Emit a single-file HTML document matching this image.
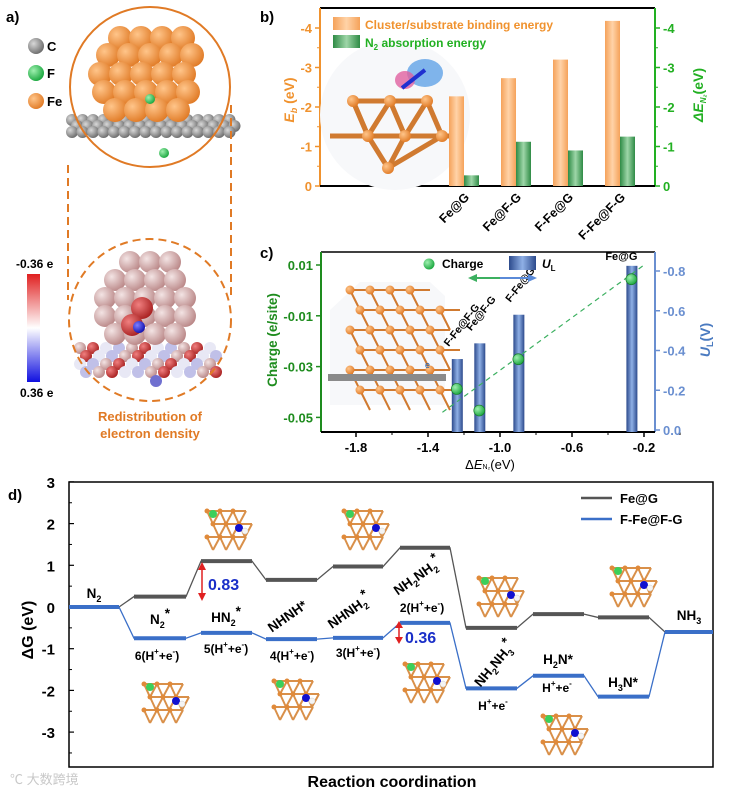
<!DOCTYPE html>
<html><head><meta charset="utf-8">
<style>
html,body{margin:0;padding:0;background:#fff;}
svg{display:block;font-family:"Liberation Sans",Arial,sans-serif;}
</style></head>
<body>
<svg id="fig" width="743" height="794" viewBox="0 0 743 794" xmlns="http://www.w3.org/2000/svg">
<defs>
<radialGradient id="gOr" cx="0.35" cy="0.35" r="0.7"><stop offset="0" stop-color="#ffc58a"/><stop offset="1" stop-color="#e07a25"/></radialGradient>
<radialGradient id="gGr" cx="0.35" cy="0.35" r="0.7"><stop offset="0" stop-color="#d8d8d8"/><stop offset="1" stop-color="#6a6a6a"/></radialGradient>
<radialGradient id="gGn" cx="0.35" cy="0.35" r="0.7"><stop offset="0" stop-color="#9ff0b0"/><stop offset="1" stop-color="#17a53c"/></radialGradient>
<radialGradient id="gPk" cx="0.35" cy="0.35" r="0.7"><stop offset="0" stop-color="#f3e4e4"/><stop offset="1" stop-color="#b98686"/></radialGradient>
<radialGradient id="gRd" cx="0.35" cy="0.35" r="0.7"><stop offset="0" stop-color="#f08080"/><stop offset="1" stop-color="#a82020"/></radialGradient>
<radialGradient id="gBl" cx="0.35" cy="0.35" r="0.7"><stop offset="0" stop-color="#8080ff"/><stop offset="1" stop-color="#1010b0"/></radialGradient>
<linearGradient id="cbar" x1="0" y1="0" x2="0" y2="1"><stop offset="0" stop-color="#e02020"/><stop offset="0.5" stop-color="#ffffff"/><stop offset="1" stop-color="#1010e0"/></linearGradient>
<linearGradient id="barOr" x1="0" x2="1"><stop offset="0" stop-color="#f5a25a"/><stop offset="0.5" stop-color="#ffd3a8"/><stop offset="1" stop-color="#f5a25a"/></linearGradient>
<linearGradient id="barGn" x1="0" x2="1"><stop offset="0" stop-color="#2e8b45"/><stop offset="0.5" stop-color="#9ed6a8"/><stop offset="1" stop-color="#2e8b45"/></linearGradient>
<linearGradient id="barBl" x1="0" x2="1"><stop offset="0" stop-color="#2c4a8c"/><stop offset="0.5" stop-color="#8fb0e6"/><stop offset="1" stop-color="#2c4a8c"/></linearGradient>
</defs>

<g>
<text x="6" y="22" font-size="15" font-weight="bold">a)</text>
<circle cx="36" cy="46" r="8" fill="url(#gGr)"/>
<text x="47" y="51" font-size="13" font-weight="bold">C</text>
<circle cx="36" cy="73" r="8" fill="url(#gGn)"/>
<text x="47" y="78" font-size="13" font-weight="bold">F</text>
<circle cx="36" cy="101" r="8" fill="url(#gOr)"/>
<text x="47" y="106" font-size="13" font-weight="bold">Fe</text>
<g id="topMol"></g>
<circle cx="150" cy="87" r="80" fill="none" stroke="#e07a25" stroke-width="2"/>
<line x1="68" y1="165" x2="68" y2="300" stroke="#e07a25" stroke-width="2" stroke-dasharray="8,5"/>
<line x1="231" y1="105" x2="231" y2="300" stroke="#e07a25" stroke-width="2" stroke-dasharray="8,5"/>
<g id="botMol"></g>
<circle cx="150" cy="320" r="81" fill="none" stroke="#e07a25" stroke-width="2" stroke-dasharray="8,5"/>
<rect x="27" y="274" width="13" height="108" fill="url(#cbar)"/>
<text x="16" y="268" font-size="12" font-weight="bold">-0.36 e</text>
<text x="20" y="397" font-size="12" font-weight="bold">0.36 e</text>
<text x="150" y="421" font-size="13" font-weight="bold" fill="#e07a25" text-anchor="middle">Redistribution of</text>
<text x="150" y="438" font-size="13" font-weight="bold" fill="#e07a25" text-anchor="middle">electron density</text>
</g>

<g id="panelB">
<text x="260" y="22" font-size="15" font-weight="bold">b)</text>
</g>
<g id="panelC">
<text x="260" y="258" font-size="15" font-weight="bold">c)</text>
</g>
<g id="panelD">
<text x="8" y="500" font-size="15" font-weight="bold">d)</text>
</g>
</svg>
<script>
// ---------- Panel b data ----------
var bCats = ["Fe@G","Fe@F-G","F-Fe@G","F-Fe@F-G"];
var bBinding = [2.27, 2.73, 3.2, 4.18];
var bAbsorb = [0.27, 1.12, 0.9, 1.25];
var bTicks = [0, -1, -2, -3, -4];
// ---------- Panel c data ----------
var cLabels = ["F-Fe@F-G","Fe@F-G","F-Fe@G","Fe@G"];
var cDeltaE = [-1.24, -1.115, -0.898, -0.27];
var cUL = [0.357, 0.436, 0.58, 0.826];
var cCharge = [-0.0388, -0.0473, -0.0271, 0.0044];
var cXTicks = [-1.8, -1.4, -1.0, -0.6, -0.2];
var cLeftTicks = [0.01, -0.01, -0.03, -0.05];
var cRightTicks = [0, -0.2, -0.4, -0.6, -0.8];
// ---------- Panel d data ----------
var dFeG = [0, 0.25, 1.1, 0.65, 0.97, 1.42, -0.5, -0.17, -0.25, -0.6];
var dFFeFG = [0, -0.75, -0.62, -0.77, -0.74, -0.38, -1.95, -1.65, -2.15, -0.6];
var dYTicks = [3, 2, 1, 0, -1, -2, -3];

var NS = "http://www.w3.org/2000/svg";
function mk(parent, tag, attrs, txt){
  var e = document.createElementNS(NS, tag);
  for (var k in attrs) e.setAttribute(k, attrs[k]);
  if (txt !== undefined) e.textContent = txt;
  parent.appendChild(e);
  return e;
}

(function(){
  var top = document.getElementById('topMol');
  for (var r=0;r<3;r++) for (var i=0;i<16;i++){
    var s = mk(top,'circle',{cx:72+i*10.5+(r%2)*5,cy:120+r*6,r:6,fill:'url(#gGr)'});
    
    
  }
  var rows = [[120,38,4],[108,55,5],[100,74,5],[104,92,5],[115,110,4]];
  rows.forEach(function(rw){
    for (var i=0;i<rw[2];i++){
      var s = mk(top,'circle',{cx:rw[0]+i*21,cy:rw[1],r:12,fill:'url(#gOr)'});
      
      
    }
  });
  var f1 = mk(top,'circle',{cx:150,cy:99,r:5,fill:'url(#gGn)'});
  
  
  var f2 = mk(top,'circle',{cx:164,cy:153,r:5,fill:'url(#gGn)'});
  
  

  var bot = document.getElementById('botMol');
  var cols = ['url(#gPk)','url(#gRd)','#e8e8f5','#c0c0e8'];
  for (var r=0;r<4;r++) for (var i=0;i<11;i++){
    var s = mk(bot,'circle',{cx:80+i*13+(r%2)*6,cy:348+r*8,r:6,fill:cols[(i+r)%4]});
    
    
  }
  var brows = [[130,262,3],[115,280,4],[105,298,5],[105,316,5],[115,334,4]];
  brows.forEach(function(rw){
    for (var i=0;i<rw[2];i++){
      var s = mk(bot,'circle',{cx:rw[0]+i*20,cy:rw[1],r:11,fill:'url(#gPk)'});
      
      
    }
  });
  [[142,308],[132,325]].forEach(function(p){
    var s = mk(bot,'circle',{cx:p[0],cy:p[1],r:11,fill:'url(#gRd)'});
    
    
  });
  var bl = mk(bot,'circle',{cx:139,cy:327,r:6,fill:'url(#gBl)'});
  
  
  var bl2 = mk(bot,'circle',{cx:156,cy:381,r:6,fill:'#7070d0'});
  
  
})();

(function(){
  var g = document.getElementById('panelB');
  var L=320,R=655,T=8,B=186, per=39.5;
  function y(v){ return B - v*per; }
  var x0 = 464, step = 52;
  function xc(i){ return x0 + i*step; }
  mk(g,'line',{x1:L,y1:T,x2:R,y2:T,stroke:'#000','stroke-width':2});
  var la = mk(g,'line',{x1:L,y1:T,x2:L,y2:B,stroke:'#f0922e','stroke-width':2});
  
  
  var ra = mk(g,'line',{x1:R,y1:T,x2:R,y2:B,stroke:'#22b022','stroke-width':2});
  
  
  var xa = mk(g,'line',{x1:L,y1:B,x2:R,y2:B,stroke:'#000','stroke-width':2});
  
  
  bTicks.forEach(function(t){
    var v=-t;
    mk(g,'line',{x1:L-5,y1:y(v),x2:L,y2:y(v),stroke:'#f0922e','stroke-width':1.5});
    var tl = mk(g,'text',{x:L-8,y:y(v)+5,'font-size':13,'font-weight':'bold',fill:'#f0922e','text-anchor':'end'},String(t));
    
    
    mk(g,'line',{x1:R,y1:y(v),x2:R+5,y2:y(v),stroke:'#22b022','stroke-width':1.5});
    var tr = mk(g,'text',{x:R+8,y:y(v)+5,'font-size':13,'font-weight':'bold',fill:'#22b022'},String(t));
    
    
    if (v<4){
      mk(g,'line',{x1:L-3,y1:y(v+0.5),x2:L,y2:y(v+0.5),stroke:'#f0922e'});
      mk(g,'line',{x1:R,y1:y(v+0.5),x2:R+3,y2:y(v+0.5),stroke:'#22b022'});
    }
  });
  var ins = mk(g,'g',{});
  
  
  mk(ins,'circle',{cx:395,cy:115,r:75,fill:'#f7f8fa'});
  var pts=[[353,101],[390,101],[427,101],[368,136],[405,136],[442,136],[388,168]];
  [[0,1],[1,2],[0,3],[1,3],[1,4],[2,4],[2,5],[3,4],[4,5],[3,6],[4,6],[5,6],[0,3]].forEach(function(p){
    mk(ins,'line',{x1:pts[p[0]][0],y1:pts[p[0]][1],x2:pts[p[1]][0],y2:pts[p[1]][1],stroke:'#d07a30','stroke-width':5});
  });
  mk(ins,'line',{x1:330,y1:136,x2:450,y2:136,stroke:'#d07a30','stroke-width':5});
  pts.forEach(function(p){ mk(ins,'circle',{cx:p[0],cy:p[1],r:6,fill:'url(#gOr)'}); });
  mk(ins,'ellipse',{cx:425,cy:73,rx:18,ry:14,fill:'#6aa8e8',opacity:0.85});
  mk(ins,'ellipse',{cx:405,cy:80,rx:10,ry:9,fill:'#e060a0',opacity:0.8});
  mk(ins,'line',{x1:402,y1:88,x2:425,y2:70,stroke:'#2030d0','stroke-width':4});
  var lg1 = mk(g,'rect',{x:333,y:17,width:27,height:13,fill:'url(#barOr)'});
  
  
  var lt1 = mk(g,'text',{x:365,y:29,'font-size':12,'font-weight':'bold',fill:'#f0922e'},'Cluster/substrate binding energy');
  
  
  var lg2 = mk(g,'rect',{x:333,y:35,width:27,height:13,fill:'url(#barGn)'});
  
  
  var lt2 = mk(g,'text',{x:365,y:47,'font-size':12,'font-weight':'bold',fill:'#22b022'});
  lt2.innerHTML = 'N<tspan font-size="8" dy="3">2</tspan><tspan dy="-3"> absorption energy</tspan>';
  
  
  bCats.forEach(function(c,i){
    var b1 = mk(g,'rect',{x:xc(i)-15,y:y(bBinding[i]),width:15,height:B-y(bBinding[i]),fill:'url(#barOr)'});
    
    
    var b2 = mk(g,'rect',{x:xc(i),y:y(bAbsorb[i]),width:15,height:B-y(bAbsorb[i]),fill:'url(#barGn)'});
    
    
    var tx = mk(g,'text',{x:xc(i)+6,y:B+12,'font-size':12.5,'font-weight':'bold','text-anchor':'end',transform:'rotate(-45 '+(xc(i)+6)+' '+(B+12)+')'},c);
    
    
  });
  var yl = mk(g,'text',{x:0,y:0,'font-size':14,'font-weight':'bold',fill:'#f0922e','text-anchor':'middle',transform:'translate(294 100) rotate(-90)'});
  yl.innerHTML='<tspan font-style="italic">E</tspan><tspan font-size="9" dy="3" font-style="italic">b</tspan><tspan dy="-3"> (eV)</tspan>';
  
  
  var yr = mk(g,'text',{x:0,y:0,'font-size':14,'font-weight':'bold',fill:'#22b022','text-anchor':'middle',transform:'translate(703 95) rotate(-90)'});
  yr.innerHTML='<tspan font-style="italic">ΔE</tspan><tspan font-size="8" dy="3" font-style="italic">N₂</tspan><tspan dy="-3">(eV)</tspan>';
  
  
})();

(function(){
  var g = document.getElementById('panelC');
  var L=321,R=655,T=252,B=432;
  function x(v){ return 356 + (v+1.8)*180; }
  function yL(v){ return 265 + (0.01 - v)/0.01*25.4; }
  function yR(v){ return 430 - v*198.75; }
  mk(g,'line',{x1:L,y1:T,x2:R,y2:T,stroke:'#000','stroke-width':1.5});
  var la = mk(g,'line',{x1:L,y1:T,x2:L,y2:B,stroke:'#1e8c1e','stroke-width':2});
  
  
  var ra = mk(g,'line',{x1:R,y1:T,x2:R,y2:B,stroke:'#6a8fd0','stroke-width':2});
  
  
  var xa = mk(g,'line',{x1:L,y1:B,x2:R,y2:B,stroke:'#000','stroke-width':2});
  
  
  var ins = mk(g,'g',{});
  
  
  mk(ins,'path',{d:'M345 296 L360 282 L430 282 L445 296 L445 405 L330 405 L330 310 Z',fill:'#f7f8fa'});
  for (var r=0;r<6;r++) for (var i=0;i<5-(r===0?1:0);i++){
    var cx=350+i*20+(r%2)*10, cy=290+r*20;
    mk(ins,'line',{x1:cx,y1:cy,x2:cx+20,y2:cy,stroke:'#d07a30','stroke-width':2});
    mk(ins,'line',{x1:cx,y1:cy,x2:cx+10,y2:cy+20,stroke:'#d07a30','stroke-width':2});
    mk(ins,'circle',{cx:cx,cy:cy,r:4.5,fill:'url(#gOr)'});
  }
  mk(ins,'rect',{x:328,y:374,width:118,height:7,fill:'#8a8a8a'});
  mk(ins,'text',{x:425,y:368,'font-size':9,fill:'#2060b0'},'e');
  cDeltaE.forEach(function(d,i){
    var b = mk(g,'rect',{x:x(d)-5,y:yR(cUL[i]),width:11,height:B-yR(cUL[i]),fill:'url(#barBl)'});
    
    
  });
  var tl = mk(g,'line',{x1:x(-1.32),y1:yL(-0.048),x2:x(-0.19),y2:yL(0.0105),stroke:'#3cb060','stroke-width':1.2,'stroke-dasharray':'5,4'});
  
  
  cDeltaE.forEach(function(d,i){
    var p = mk(g,'circle',{cx:x(d),cy:yL(cCharge[i]),r:5.5,fill:'url(#gGn)',stroke:'#1a7a2a','stroke-width':0.7});
    
    
  });
  cDeltaE.forEach(function(d,i){
    var t;
    if (i===3){
      t = mk(g,'text',{x:x(d)-10,y:yR(cUL[i])-6,'font-size':11,'font-weight':'bold','text-anchor':'middle'},cLabels[i]);
    } else {
      var lx = x(d)-8, ly = yR(cUL[i])-12;
      t = mk(g,'text',{x:lx,y:ly,'font-size':10.5,'font-weight':'bold',transform:'rotate(-52 '+lx+' '+ly+')'},cLabels[i]);
    }
    
    
  });
  cXTicks.forEach(function(t){
    mk(g,'line',{x1:x(t),y1:B,x2:x(t),y2:B+5,stroke:'#000','stroke-width':1.5});
    mk(g,'line',{x1:x(t+0.2),y1:B,x2:x(t+0.2),y2:B+3,stroke:'#000'});
    var tx = mk(g,'text',{x:x(t),y:B+20,'font-size':13,'font-weight':'bold','text-anchor':'middle'},t.toFixed(1));
    
    
  });
  cLeftTicks.forEach(function(t){
    mk(g,'line',{x1:L-5,y1:yL(t),x2:L,y2:yL(t),stroke:'#1e8c1e','stroke-width':1.5});
    var tx = mk(g,'text',{x:L-8,y:yL(t)+5,'font-size':13,'font-weight':'bold',fill:'#1e8c1e','text-anchor':'end'},String(t));
    
    
  });
  cRightTicks.forEach(function(t){
    mk(g,'line',{x1:R,y1:yR(-t),x2:R+5,y2:yR(-t),stroke:'#6a8fd0','stroke-width':1.5});
    var tx = mk(g,'text',{x:R+8,y:yR(-t)+5,'font-size':13,'font-weight':'bold',fill:'#6a8fd0'},t.toFixed(1));
    
    
  });
  var lgd = mk(g,'circle',{cx:429,cy:264,r:5.5,fill:'url(#gGn)'});
  
  
  var lgt = mk(g,'text',{x:442,y:268,'font-size':12,'font-weight':'bold'},'Charge');
  
  
  var lgb = mk(g,'rect',{x:509,y:256,width:27,height:14,fill:'url(#barBl)'});
  
  
  var lgu = mk(g,'text',{x:542,y:268,'font-size':12,'font-weight':'bold'});
  lgu.innerHTML='<tspan font-style="italic">U</tspan><tspan font-size="8" dy="3">L</tspan>';
  
  
  var ar = mk(g,'g',{});
  
  
  mk(ar,'line',{x1:475,y1:278,x2:500,y2:278,stroke:'#3cb060','stroke-width':2});
  mk(ar,'line',{x1:500,y1:278,x2:530,y2:278,stroke:'#5a8ad8','stroke-width':2});
  mk(ar,'path',{d:'M468 278 L477 274 L477 282 Z',fill:'#3cb060'});
  mk(ar,'path',{d:'M537 278 L528 274 L528 282 Z',fill:'#5a8ad8'});
  var yl = mk(g,'text',{x:0,y:0,'font-size':13.5,'font-weight':'bold',fill:'#1e8c1e','text-anchor':'middle',transform:'translate(277 340) rotate(-90)'},'Charge (e/site)');
  
  
  var yr = mk(g,'text',{x:0,y:0,'font-size':14,'font-weight':'bold',fill:'#4a7ac0','text-anchor':'middle',transform:'translate(710 340) rotate(-90)'});
  yr.innerHTML='<tspan font-style="italic">U</tspan><tspan font-size="9" dy="3">L</tspan><tspan dy="-3">(V)</tspan>';
  
  
  var xt = mk(g,'text',{x:490,y:469,'font-size':13,'text-anchor':'middle'});
  xt.innerHTML='Δ<tspan font-style="italic">E</tspan><tspan font-size="7">N₂</tspan>(eV)';
  
  
})();

(function(){
  var g = document.getElementById('panelD');
  var L=69,R=713,T=482,B=767;
  function y(v){ return 607 - v*41.7; }
  var xs = [[69,119],[134,186],[201,252],[266,317],[333,383],[400,450],[466,517],[533,584],[598,649],[665,713]];
  var fr = mk(g,'rect',{x:L,y:T,width:R-L,height:B-T,fill:'none',stroke:'#000','stroke-width':1.5});
  
  
  dYTicks.forEach(function(t){
    mk(g,'line',{x1:L,y1:y(t),x2:L+5,y2:y(t),stroke:'#000','stroke-width':1.2});
    mk(g,'line',{x1:L,y1:y(t-0.5),x2:L+3,y2:y(t-0.5),stroke:'#000'});
    var tx = mk(g,'text',{x:L-14,y:y(t)+6,'font-size':15,'font-weight':'bold','text-anchor':'end'},String(t));
    
    
  });
  function path(arr){
    var d='';
    arr.forEach(function(v,i){
      d += (i===0?'M':'L')+xs[i][0]+' '+y(v)+' L'+xs[i][1]+' '+y(v)+' ';
    });
    return d;
  }
  var thin1 = mk(g,'path',{d:path(dFeG),fill:'none',stroke:'#555','stroke-width':1.3});
  
  
  var thin2 = mk(g,'path',{d:path(dFFeFG),fill:'none',stroke:'#3a6fc8','stroke-width':1.3});
  
  
  dFeG.forEach(function(v,i){
    if (i===0) return;
    var s = mk(g,'line',{x1:xs[i][0],y1:y(v),x2:xs[i][1],y2:y(v),stroke:'#555','stroke-width':4});
    
    
  });
  dFFeFG.forEach(function(v,i){
    var s = mk(g,'line',{x1:xs[i][0],y1:y(v),x2:xs[i][1],y2:y(v),stroke:'#3a6fc8','stroke-width':4});
    
    
  });
  var l1 = mk(g,'line',{x1:581,y1:498,x2:612,y2:498,stroke:'#555','stroke-width':2.5});
  
  
  var t1 = mk(g,'text',{x:620,y:503,'font-size':13,'font-weight':'bold'},'Fe@G');
  
  
  var l2 = mk(g,'line',{x1:581,y1:519,x2:612,y2:519,stroke:'#3a6fc8','stroke-width':2.5});
  
  
  var t2 = mk(g,'text',{x:620,y:524,'font-size':13,'font-weight':'bold'},'F-Fe@F-G');
  
  
  var labs = [
    [94,598,'N<tspan font-size="9" dy="4">2</tspan>',0],
    [160,624,'N<tspan font-size="9" dy="4">2</tspan><tspan dy="-10">*</tspan>',0],
    [226,622,'HN<tspan font-size="9" dy="4">2</tspan><tspan dy="-10">*</tspan>',0],
    [290,620,'NHNH*',-35],
    [352,615,'NHNH<tspan font-size="9" dy="4">2</tspan><tspan dy="-10">*</tspan>',-35],
    [420,580,'NH<tspan font-size="9" dy="4">2</tspan><tspan dy="-4">NH</tspan><tspan font-size="9" dy="4">2</tspan><tspan dy="-10">*</tspan>',-35],
    [498,667,'NH<tspan font-size="9" dy="4">2</tspan><tspan dy="-4">NH</tspan><tspan font-size="9" dy="4">3</tspan><tspan dy="-10">*</tspan>',-50],
    [558,664,'H<tspan font-size="9" dy="4">2</tspan><tspan dy="-4">N*</tspan>',0],
    [623,687,'H<tspan font-size="9" dy="4">3</tspan><tspan dy="-4">N*</tspan>',0],
    [689,620,'NH<tspan font-size="9" dy="4">3</tspan>',0]
  ];
  labs.forEach(function(l){
    var t = mk(g,'text',{x:l[0],y:l[1],'font-size':13.5,'font-weight':'bold','text-anchor':'middle',transform:l[3]?'rotate('+l[3]+' '+l[0]+' '+l[1]+')':''});
    t.innerHTML = l[2];
    
    
  });
  var steps = [[157,6,660],[226,5,653],[292,4,660],[358,3,657],[422,2,612],[493,'',710],[557,'',692]];
  steps.forEach(function(s){
    var t = mk(g,'text',{x:s[0],y:s[2],'font-size':12,'font-weight':'bold','text-anchor':'middle'});
    t.innerHTML = s[1]+'(H<tspan font-size="8" dy="-6">+</tspan><tspan dy="6">+e</tspan><tspan font-size="8" dy="-6">-</tspan><tspan dy="6">)</tspan>';
    if (s[1]==='') t.innerHTML = 'H<tspan font-size="8" dy="-6">+</tspan><tspan dy="6">+e</tspan><tspan font-size="8" dy="-6">-</tspan>';
    
    
  });
  var a1 = mk(g,'g',{});
  
  
  mk(a1,'line',{x1:202,y1:566,x2:202,y2:597,stroke:'#e02020','stroke-width':1.5});
  mk(a1,'path',{d:'M202 562 L198 570 L206 570 Z M202 601 L198 593 L206 593 Z',fill:'#e02020'});
  var v1 = mk(g,'text',{x:208,y:590,'font-size':16,'font-weight':'bold',fill:'#1a2fc8'},'0.83');
  
  
  var a2 = mk(g,'g',{});
  
  
  mk(a2,'line',{x1:399,y1:624,x2:399,y2:640,stroke:'#e02020','stroke-width':1.5});
  mk(a2,'path',{d:'M399 621 L395 628 L403 628 Z M399 644 L395 637 L403 637 Z',fill:'#e02020'});
  var v2 = mk(g,'text',{x:405,y:643,'font-size':16,'font-weight':'bold',fill:'#1a2fc8'},'0.36');
  
  
  var insets = [[225,525],[362,525],[497,592],[630,582],[162,698],[292,695],[423,678],[561,730]];
  insets.forEach(function(p){
    var ig = mk(g,'g',{});
    
    
    for (var r=0;r<3;r++) for (var i=0;i<3;i++){
      var cx=p[0]-18+i*13+(r%2)*6, cy=p[1]-14+r*13;
      mk(ig,'line',{x1:cx,y1:cy,x2:cx+13,y2:cy,stroke:'#d9904a','stroke-width':2});
      mk(ig,'line',{x1:cx,y1:cy,x2:cx+6,y2:cy+13,stroke:'#d9904a','stroke-width':2});
      mk(ig,'line',{x1:cx+13,y1:cy,x2:cx+6,y2:cy+13,stroke:'#d9904a','stroke-width':2});
      mk(ig,'circle',{cx:cx,cy:cy,r:2.5,fill:'#e08a3a'});
    }
    mk(ig,'circle',{cx:p[0]-12,cy:p[1]-11,r:4,fill:'#3ccf5a'});
    mk(ig,'circle',{cx:p[0]+14,cy:p[1]+3,r:4,fill:'#1010d0'});
    mk(ig,'circle',{cx:p[0]+20,cy:p[1]+6,r:3,fill:'#f4f4f4',stroke:'#ccc','stroke-width':0.5});
  });
  var yl = mk(g,'text',{x:0,y:0,'font-size':16,'font-weight':'bold','text-anchor':'middle',transform:'translate(33 630) rotate(-90)'},'ΔG (eV)');
  
  
  var xt = mk(g,'text',{x:392,y:787,'font-size':16,'font-weight':'bold','text-anchor':'middle'},'Reaction coordination');
  
  
  var wm = mk(g,'text',{x:10,y:784,'font-size':13,fill:'#c8c8c8'},'\u2103 大数跨境');
  wm.setAttribute('font-family','"Liberation Sans","Noto Sans CJK SC",sans-serif');
  
  
})();
</script>
</body></html>
